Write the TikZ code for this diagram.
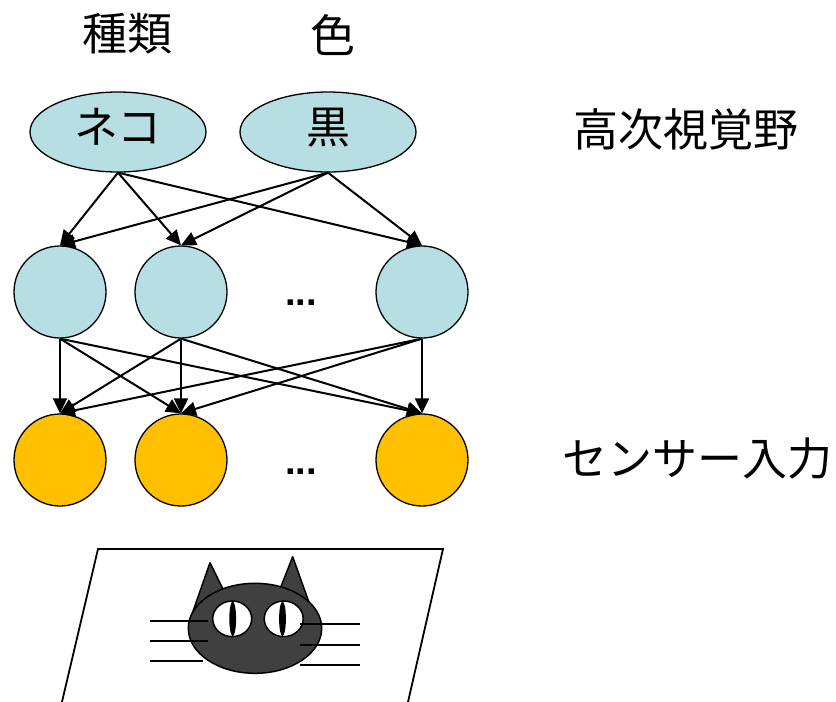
\documentclass[tikz,border=0pt]{standalone}
\usepackage{fontspec}
\setmainfont{Noto Sans CJK JP}
\newfontfamily\dotsfont{Liberation Sans}
\usetikzlibrary{arrows.meta,shapes.geometric}
\definecolor{unitblue}{HTML}{B7DEE3}
\definecolor{unitorange}{HTML}{FFC000}
\definecolor{catgray}{HTML}{404040}
\begin{document}
\begin{tikzpicture}[x=1pt,y=-1pt,
  caption/.style={font=\fontsize{45}{50}\selectfont, inner sep=0pt},
  concept/.style={ellipse, draw, line width=1.3pt, fill=unitblue,
    minimum width=176pt, minimum height=80pt, inner sep=0pt,
    font=\fontsize{44}{48}\selectfont, text height=39pt, text depth=17pt},
  hidden/.style={circle, draw, line width=1.3pt, fill=unitblue,
    minimum size=92pt, inner sep=0pt},
  sensor/.style={hidden, fill=unitorange},
  link/.style={-{Triangle[length=15pt,width=14pt]}, line width=2pt},
  ellip/.style={font=\dotsfont\bfseries\fontsize{38}{38}\selectfont, inner sep=0pt},
  outline/.style={line width=1.5pt, line join=round},
  whisker/.style={line width=2pt}
]
\useasboundingbox (0,0) rectangle (836,702);

% attribute captions
\node[caption] (kind)  at (127,34) {種類};
\node[caption] (color) at (333,35) {色};
\node[caption] (higher) at (686,129) {高次視覚野};
\node[caption] (input)  at (697,459) {センサー入力};

% concept units
\node[concept] (neko) at (118,132) {ネコ};
\node[concept] (kuro) at (328,132) {黒};

% hidden units
\node[hidden] (h1) at (60,292) {};
\node[hidden] (h2) at (181,292) {};
\node[hidden] (h3) at (422,292) {};
\node[ellip] (hdots) at (301,303) {...};

% sensor units
\node[sensor] (s1) at (60,460) {};
\node[sensor] (s2) at (181,460) {};
\node[sensor] (s3) at (422,460) {};
\node[ellip] (sdots) at (301,472) {...};

% connections
\foreach \s in {neko,kuro}
  \foreach \t in {h1,h2,h3}
    \draw[link] (\s.south) -- (\t.north);
\foreach \s in {h1,h2,h3}
  \foreach \t in {s1,s2,s3}
    \draw[link] (\s.south) -- (\t.north);

% the picture sheet, running off the lower edge
\draw[line width=1.8pt, line join=miter] (59.6,712) -- (98,549) -- (443,549) -- (405.7,712);

% cat: ears
\draw[outline, fill=catgray] (191.7,615) -- (210,562.7) -- (233.3,610) -- cycle;
\draw[outline, fill=catgray] (275,601.7) -- (292.7,556.7) -- (311.7,610) -- cycle;
% cat: head
\draw[outline, fill=catgray] (255,628.3) ellipse [x radius=66.7, y radius=45];
% cat: eyes
\draw[outline, fill=white] (232.2,618.8) ellipse [x radius=19.5, y radius=17.8];
\draw[outline, fill=white] (283.7,618.8) ellipse [x radius=19.5, y radius=17.8];
\fill (232.7,618.8) ellipse [x radius=3.4, y radius=17.3];
\fill (282.5,618.8) ellipse [x radius=3.4, y radius=17.3];
% cat: whiskers
\foreach \y/\x in {620.5/208.3, 640.5/208.3, 660.5/203.3}
  \draw[whisker] (150,\y) -- (\x,\y);
\foreach \y in {623.5, 644.5, 664.5}
  \draw[whisker] (300,\y) -- (360,\y);
\end{tikzpicture}
\end{document}
